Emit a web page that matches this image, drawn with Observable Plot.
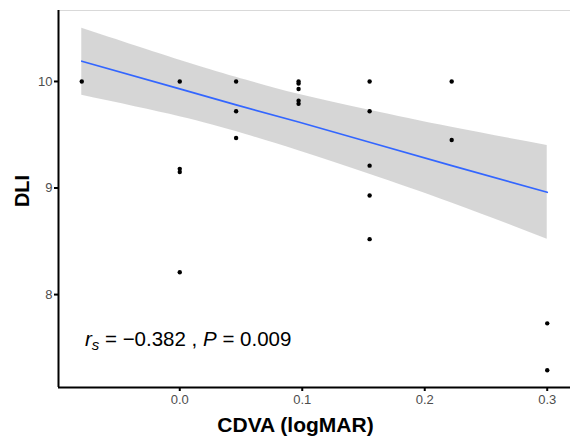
<!DOCTYPE html>
<html>
<head>
<meta charset="utf-8">
<script src="https://cdn.jsdelivr.net/npm/d3@7"></script>
<script src="https://cdn.jsdelivr.net/npm/@observablehq/plot@0.6"></script>
<style>
  html, body { margin: 0; padding: 0; background: #fff; }
  #chart svg { display: block; }
</style>
</head>
<body>
<div id="chart"></div>
<script>
// Observed points (CDVA in logMAR, DLI)
const cdva = [-0.08, 0, 0, 0, 0, 0.046, 0.046, 0.046,
  0.097, 0.097, 0.097, 0.097, 0.097,
  0.155, 0.155, 0.155, 0.155, 0.155,
  0.222, 0.222, 0.3, 0.3];
const dli = [10.0, 10.0, 9.18, 9.15, 8.21, 10.0, 9.72, 9.47,
  10.0, 9.98, 9.93, 9.82, 9.79,
  10.0, 9.72, 9.21, 8.93, 8.52,
  10.0, 9.45, 7.73, 7.29];

// Fitted linear trend and its 95% confidence band
const fitX = [-0.08, 0, 0.046, 0.097, 0.155, 0.222, 0.3];
const fitY = [10.19, 9.93, 9.78, 9.62, 9.43, 9.21, 8.96];
const ciLow = [9.87, 9.67, 9.53, 9.35, 9.13, 8.86, 8.52];
const ciHigh = [10.50, 10.20, 10.04, 9.88, 9.73, 9.57, 9.40];

// Ticks
const xTicks = [0.0, 0.1, 0.2, 0.3];
const yTicks = [8, 9, 10];

const xLabel = "CDVA (logMAR)";
const yLabel = "DLI";

const points = cdva.map((x, i) => ({x, y: dli[i]}));
const fit = fitX.map((x, i) => ({x, y: fitY[i], lo: ciLow[i], hi: ciHigh[i]}));

const xDomain = [-0.099, 0.319];
const yDomain = [7.128, 10.666];

const font = "'Liberation Sans', Arial, sans-serif";

const plot = Plot.plot({
  width: 570,
  height: 439,
  marginLeft: 58,
  marginRight: 0,
  marginTop: 10,
  marginBottom: 52,
  style: {fontFamily: font, background: "#fff"},
  x: {domain: xDomain},
  y: {domain: yDomain},
  marks: [
    Plot.ruleY([yDomain[1]], {stroke: "#d9d9d9", strokeWidth: 1}),
    Plot.areaY(fit, {x: "x", y1: "lo", y2: "hi", fill: "#999999", fillOpacity: 0.4, curve: "natural"}),
    Plot.lineY(fit, {x: "x", y: "y", stroke: "#3366FF", strokeWidth: 1.7}),
    Plot.dot(points, {x: "x", y: "y", r: 2.2, fill: "black", stroke: "none"}),
    Plot.axisX({ticks: xTicks, tickFormat: d3.format(".1f"), tickSize: 4, tickPadding: 3,
      stroke: "black", strokeWidth: 2, fill: "#4d4d4d", fontSize: 13, label: null}),
    Plot.axisY({ticks: yTicks, tickFormat: d3.format("d"), tickSize: 4, tickPadding: 2,
      stroke: "black", strokeWidth: 2, fill: "#4d4d4d", fontSize: 13, label: null}),
    Plot.ruleX([xDomain[0]], {stroke: "black", strokeWidth: 2}),
    Plot.ruleY([yDomain[0]], {stroke: "black", strokeWidth: 2}),
    Plot.text([xLabel], {frameAnchor: "bottom", textAnchor: "middle", lineAnchor: "middle",
      dx: -19, dy: 38, fontSize: 21, fontWeight: "bold", fill: "black"}),
    Plot.text([yLabel], {frameAnchor: "left", textAnchor: "middle", lineAnchor: "middle",
      rotate: -90, dx: -36, dy: -8, fontSize: 20, fontWeight: "bold", fill: "black"})
  ]
});

document.getElementById("chart").appendChild(plot);

// Correlation annotation with italic r_s and P
const sx = plot.scale("x"), sy = plot.scale("y");
const ann = d3.select(plot).append("text")
  .attr("x", sx.apply(-0.077))
  .attr("y", sy.apply(7.56))
  .attr("text-anchor", "start")
  .attr("dominant-baseline", "middle")
  .attr("font-family", font)
  .attr("font-size", 20.5)
  .attr("fill", "black");
ann.append("tspan").attr("font-style", "italic").text("r");
ann.append("tspan").attr("font-style", "italic").attr("font-size", 15).attr("dy", 5).text("s");
ann.append("tspan").attr("dy", -5).text(" = \u22120.382 , ");
ann.append("tspan").attr("font-style", "italic").text("P");
ann.append("tspan").text(" = 0.009");
</script>
</body>
</html>
